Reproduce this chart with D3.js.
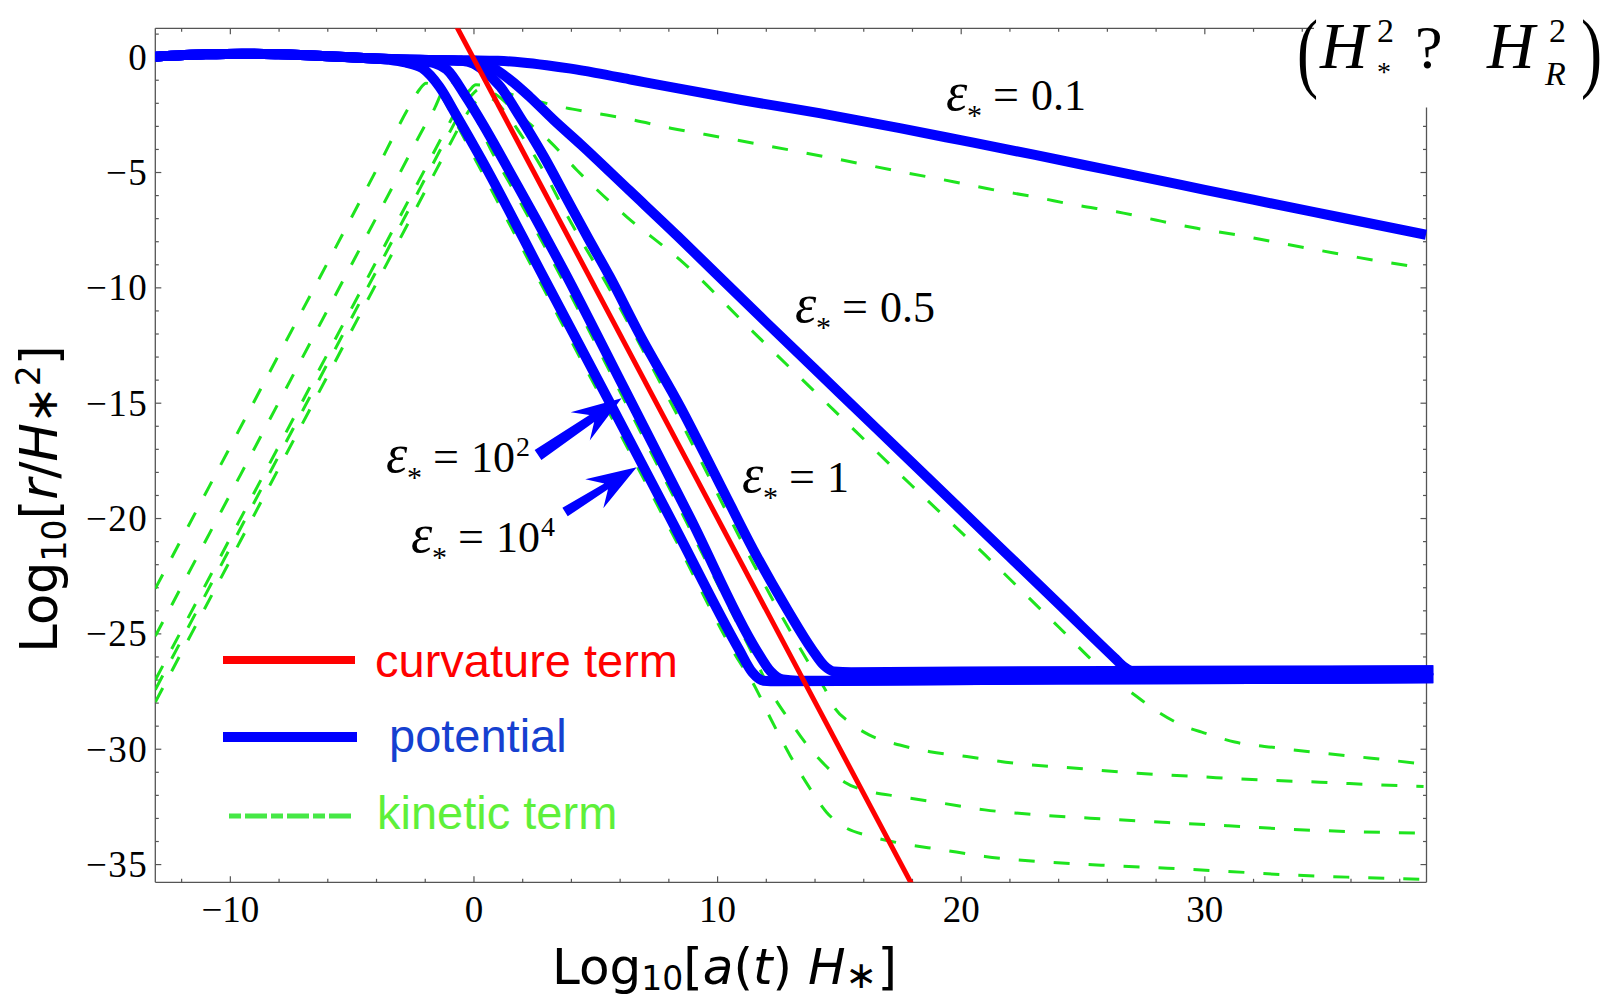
<!DOCTYPE html>
<html lang="en">
<head>
<meta charset="UTF-8">
<title>Log10[r/H*^2] against Log10[a(t) H*]</title>
<script src="https://cdn.jsdelivr.net/npm/d3@7"></script>
<style>
  body { margin: 0; background: #fff; }
  svg { display: block; }
</style>
</head>
<body>
<div id="chart"></div>
<script>
// ---------- data (x = Log10[a H*], y = Log10[r/H*^2]) ----------
const xTicks = [-10, 0, 10, 20, 30];
const yTicks = [0, -5, -10, -15, -20, -25, -30, -35];

// curvature term
const curvX = [-1.0, 18.3];
const curvY = [1.92, -36.49];

// potential, one curve per epsilon*
const potEps01X = [-13.06, -11, -9.5, -8, -6, -4.5, -3, -1.5, 0, 1, 2, 3, 4, 5, 6.5, 8, 11, 14.2, 17.5, 20, 23, 26, 29, 32, 35.5, 39.1];
const potEps01Y = [0.0, 0.1, 0.13, 0.1, 0.02, -0.06, -0.12, -0.15, -0.16, -0.18, -0.25, -0.37, -0.52, -0.7, -1.0, -1.3, -1.88, -2.45, -3.1, -3.62, -4.25, -4.9, -5.55, -6.2, -6.95, -7.72];

const potEps05X = [-13.06, -11, -9.5, -8, -6, -4.5, -3, -1.5, -0.5, 0.3, 0.7, 1.5, 2.3, 3.3, 4.4, 6.4, 8.4, 10, 12, 15, 18, 21, 24, 26.3, 26.7, 27.2, 28, 32, 39.4];
const potEps05Y = [0.0, 0.1, 0.13, 0.1, 0.02, -0.06, -0.12, -0.15, -0.18, -0.26, -0.43, -1.0, -1.73, -2.75, -3.8, -5.8, -7.8, -9.45, -11.5, -14.55, -17.6, -20.65, -23.7, -26.05, -26.45, -26.7, -26.68, -26.65, -26.6];

const potEps1X = [-13.06, -11, -9.5, -8, -6, -4.5, -3, -1.5, -0.5, 0.0, 0.3, 1.1, 1.9, 2.9, 3.8, 4.7, 5.6, 6.8, 8.5, 10.1, 11.5, 12.9, 13.9, 14.4, 14.8, 15.5, 20, 28, 39.4];
const potEps1Y = [0.0, 0.1, 0.13, 0.1, 0.02, -0.06, -0.12, -0.15, -0.18, -0.3, -0.5, -1.3, -2.6, -4.35, -6.1, -7.85, -9.55, -12.0, -15.2, -18.5, -21.4, -24.0, -25.7, -26.4, -26.65, -26.68, -26.65, -26.62, -26.6];

const potEps1e2X = [-13.06, -11, -9.5, -8, -6, -4.5, -3, -2.2, -1.6, -1.1, -0.3, 0.7, 1.6, 2.6, 3.7, 6.15, 8.9, 11.6, 12.2, 12.7, 13.3, 16, 24, 32, 39.4];
const potEps1e2Y = [0.0, 0.1, 0.13, 0.1, 0.02, -0.06, -0.12, -0.18, -0.28, -0.55, -1.75, -3.5, -5.2, -7.1, -9.25, -14.3, -20.0, -25.7, -26.65, -27.0, -27.05, -27.05, -27.0, -26.98, -26.95];

const potEps1e4X = [-13.06, -11, -9.5, -8, -6, -4.5, -3.5, -2.8, -2.1, -1.4, -0.7, 0.3, 2.9, 5.5, 8.2, 10.9, 11.45, 11.9, 12.5, 16, 24, 32, 39.4];
const potEps1e4Y = [0.0, 0.1, 0.13, 0.1, 0.02, -0.06, -0.13, -0.25, -0.5, -1.3, -2.55, -4.4, -9.6, -14.8, -20.25, -25.7, -26.7, -27.05, -27.08, -27.05, -27.0, -26.98, -26.95];

// kinetic term, one curve per epsilon*
const kinEps01X = [-13.06, -6.92, -2, -1, -0.5, -0.15, 0.1, 0.5, 0.9, 1.6, 2.7, 3.7, 4.9, 6.4, 8.1, 10.25, 11.9, 14.5, 17.9, 19.7, 21.4, 23.0, 24.7, 26.4, 28.0, 29.7, 31.35, 33.0, 34.8, 36.3, 39.0];
const kinEps01Y = [-27.02, -14.74, -4.9, -2.9, -1.95, -1.45, -1.22, -1.25, -1.4, -1.65, -1.95, -2.2, -2.43, -2.71, -3.1, -3.51, -3.83, -4.35, -5.06, -5.42, -5.78, -6.07, -6.43, -6.72, -7.08, -7.44, -7.73, -8.06, -8.41, -8.7, -9.16];

const kinEps05X = [-13.06, -6.71, -2, -1, -0.5, -0.1, 0.25, 0.6, 1.0, 1.5, 2.3, 3.14, 4.24, 6.29, 8.48, 11.5, 14.77, 18, 21, 24, 26.0, 27.24, 27.98, 29.24, 29.98, 31.25, 32.97, 34.75, 36.76, 39.0];
const kinEps05Y = [-27.44, -14.74, -5.32, -3.32, -2.35, -1.7, -1.4, -1.45, -1.7, -2.15, -2.9, -3.68, -4.91, -6.94, -8.81, -11.95, -15.3, -18.6, -21.6, -24.7, -26.75, -27.75, -28.32, -29.05, -29.31, -29.71, -29.96, -30.18, -30.4, -30.66];

const kinEps1X = [-13.06, -6.44, -2, -1, -0.4, 0.1, 0.45, 0.8, 1.3, 1.9, 2.9, 3.8, 5.6, 8.5, 11.5, 13.0, 14.0, 14.5, 14.75, 15.5, 16.24, 17.5, 18.74, 20.25, 22.25, 24.75, 27.25, 29.75, 32.25, 34.75, 37.25, 39.0];
const kinEps1Y = [-27.98, -14.74, -5.86, -3.86, -2.7, -1.95, -1.7, -1.85, -2.4, -3.3, -5.0, -6.8, -10.1, -15.8, -22.0, -24.9, -26.7, -27.55, -28.1, -28.9, -29.4, -29.84, -30.13, -30.34, -30.63, -30.85, -31.06, -31.21, -31.35, -31.45, -31.57, -31.64];

const kinEps1e2X = [-13.06, -7.87, -3, -2, -1.6, -1.25, -0.96, -0.6, -0.2, 0.7, 1.6, 2.6, 3.7, 6.15, 8.9, 11.6, 12.25, 12.99, 13.74, 14.49, 15.24, 16.24, 17.49, 19.24, 20.99, 23.24, 25.99, 28.49, 30.99, 33.49, 35.99, 39.0];
const kinEps1e2Y = [-25.12, -14.74, -5.0, -3.0, -2.25, -1.45, -1.1, -1.3, -2.0, -4.0, -5.7, -7.6, -9.75, -14.8, -20.5, -26.2, -27.6, -28.8, -29.9, -30.77, -31.45, -31.85, -32.07, -32.36, -32.65, -32.87, -33.05, -33.2, -33.34, -33.49, -33.59, -33.66];

const kinEps1e4X = [-13.06, -8.9, -4, -2.6, -2.2, -1.95, -1.6, -1.2, -0.7, 0.0, 1.4, 2.9, 5.5, 8.2, 10.9, 11.5, 12.2, 13.0, 13.74, 14.49, 15.24, 16.24, 17.49, 19.24, 20.99, 23.24, 25.99, 28.49, 30.99, 33.49, 35.99, 39.0];
const kinEps1e4Y = [-23.06, -14.74, -4.94, -2.1, -1.4, -1.15, -1.3, -1.9, -2.9, -4.3, -7.1, -10.1, -15.3, -20.75, -26.2, -27.2, -28.7, -30.3, -31.6, -32.75, -33.4, -33.78, -34.09, -34.38, -34.67, -34.89, -35.06, -35.18, -35.32, -35.47, -35.57, -35.66];

// ---------- layout ----------
const W = 1605, H = 998;
const plot = {left: 155.3, right: 1426.5, top: 28.3, bottom: 882.3};
const frameTopEnd = 34.5;      // top frame line stops under the (H*^2 ? H_R^2) note
const frameRightStart = -2.2;  // right frame line starts below it

const serif = "'Liberation Serif', 'Times New Roman', serif";
const sans = "'Liberation Sans', Arial, sans-serif";
const dejavu = "'DejaVu Sans', Verdana, sans-serif";

const svg = d3.select("#chart").append("svg")
  .attr("width", W).attr("height", H)
  .style("font-family", serif);

const x = d3.scaleLinear().domain([-13.06, 39.12]).range([plot.left, plot.right]);
const y = d3.scaleLinear().domain([-35.79, 1.23]).range([plot.bottom, plot.top]);

svg.append("defs").append("clipPath").attr("id", "clip")
  .append("rect")
  .attr("x", plot.left).attr("y", plot.top)
  .attr("width", plot.right - plot.left + 10)
  .attr("height", plot.bottom - plot.top);

// ---------- frame and ticks ----------
const frameColor = "#555";
const frame = svg.append("g").attr("stroke", frameColor).attr("stroke-width", 1.3);
frame.append("line").attr("x1", plot.left).attr("x2", plot.left).attr("y1", plot.top).attr("y2", plot.bottom);
frame.append("line").attr("x1", plot.left).attr("x2", plot.right).attr("y1", plot.bottom).attr("y2", plot.bottom);
frame.append("line").attr("x1", plot.left).attr("x2", x(frameTopEnd)).attr("y1", plot.top).attr("y2", plot.top);
frame.append("line").attr("x1", plot.right).attr("x2", plot.right).attr("y1", y(frameRightStart)).attr("y2", plot.bottom);

const fmt = d => d < 0 ? "\u2212" + Math.abs(d) : String(d);
const xMinor = d3.range(-12, 39, 2).filter(v => v % 10 !== 0);
const yMinor = d3.range(-35, 2, 1).filter(v => v % 5 !== 0);

function styleTicks(g) {
  g.select(".domain").remove();
  g.selectAll(".tick line").attr("stroke", frameColor).attr("stroke-width", 1.2);
}

// bottom
svg.append("g").attr("transform", `translate(0,${plot.bottom})`)
  .call(d3.axisBottom(x).tickValues(xMinor).tickSizeInner(-3.5).tickSizeOuter(0).tickFormat(""))
  .call(styleTicks);
svg.append("g").attr("transform", `translate(0,${plot.bottom})`)
  .call(d3.axisBottom(x).tickValues(xTicks).tickSizeInner(-6).tickSizeOuter(0).tickFormat(fmt))
  .call(styleTicks)
  .call(g => g.selectAll("text")
    .attr("y", 39.4).attr("dy", null)
    .attr("font-family", serif).attr("font-size", 37).attr("fill", "#000"));

// top (only where the frame line exists)
svg.append("g").attr("transform", `translate(0,${plot.top})`)
  .call(d3.axisTop(x).tickValues(xMinor.filter(v => v < frameTopEnd)).tickSizeInner(-3.5).tickSizeOuter(0).tickFormat(""))
  .call(styleTicks);
svg.append("g").attr("transform", `translate(0,${plot.top})`)
  .call(d3.axisTop(x).tickValues(xTicks.filter(v => v < frameTopEnd)).tickSizeInner(-6).tickSizeOuter(0).tickFormat(""))
  .call(styleTicks);

// left
svg.append("g").attr("transform", `translate(${plot.left},0)`)
  .call(d3.axisLeft(y).tickValues(yMinor).tickSizeInner(-3.5).tickSizeOuter(0).tickFormat(""))
  .call(styleTicks);
svg.append("g").attr("transform", `translate(${plot.left},0)`)
  .call(d3.axisLeft(y).tickValues(yTicks).tickSizeInner(-6).tickSizeOuter(0).tickFormat(fmt))
  .call(styleTicks)
  .call(g => g.selectAll("text")
    .attr("x", -7).attr("dy", 12.5)
    .attr("font-family", serif).attr("font-size", 37).attr("letter-spacing", 1.5).attr("fill", "#000"));

// right
svg.append("g").attr("transform", `translate(${plot.right},0)`)
  .call(d3.axisRight(y).tickValues(yMinor.filter(v => v < frameRightStart)).tickSizeInner(-3.5).tickSizeOuter(0).tickFormat(""))
  .call(styleTicks);
svg.append("g").attr("transform", `translate(${plot.right},0)`)
  .call(d3.axisRight(y).tickValues(yTicks.filter(v => v < frameRightStart)).tickSizeInner(-6).tickSizeOuter(0).tickFormat(""))
  .call(styleTicks);

// ---------- curves ----------
const line = d3.line().x(d => x(d[0])).y(d => y(d[1])).curve(d3.curveMonotoneX);
const plotG = svg.append("g").attr("clip-path", "url(#clip)");

const kinetic = [
  d3.zip(kinEps01X, kinEps01Y), d3.zip(kinEps05X, kinEps05Y), d3.zip(kinEps1X, kinEps1Y),
  d3.zip(kinEps1e2X, kinEps1e2Y), d3.zip(kinEps1e4X, kinEps1e4Y)
];
const potential = [
  d3.zip(potEps01X, potEps01Y), d3.zip(potEps05X, potEps05Y), d3.zip(potEps1X, potEps1Y),
  d3.zip(potEps1e2X, potEps1e2Y), d3.zip(potEps1e4X, potEps1e4Y)
];

plotG.selectAll("path.kin").data(kinetic).join("path")
  .attr("class", "kin")
  .attr("d", line)
  .attr("fill", "none")
  .attr("stroke", "#1ee41e")
  .attr("stroke-width", 3)
  .attr("stroke-dasharray", "16,19");

plotG.selectAll("path.pot").data(potential).join("path")
  .attr("class", "pot")
  .attr("d", line)
  .attr("fill", "none")
  .attr("stroke", "#0000ff")
  .attr("stroke-width", 10)
  .attr("stroke-linejoin", "round");

plotG.append("path")
  .datum(d3.zip(curvX, curvY))
  .attr("d", d3.line().x(d => x(d[0])).y(d => y(d[1])))
  .attr("fill", "none")
  .attr("stroke", "#ff0000")
  .attr("stroke-width", 5);

// ---------- arrows pointing at the eps = 10^2 and 10^4 curves ----------
const arrows = [
  {tail: [2.65, -17.27], tip: [6.08, -14.81], w: 12},
  {tail: [3.76, -19.74], tip: [6.7, -17.8], w: 10}
];
arrows.forEach(a => {
  const tx = x(a.tail[0]), ty = y(a.tail[1]);
  const px = x(a.tip[0]), py = y(a.tip[1]);
  const len = Math.hypot(px - tx, py - ty);
  const ux = (px - tx) / len, uy = (py - ty) / len;
  const nx = -uy, ny = ux;
  const hl = 50, hw = 17, notch = 36, hs = a.w / 2;
  const bx = px - notch * ux, by = py - notch * uy;
  const pts = [
    [tx + hs * nx, ty + hs * ny],
    [bx + 0.7 * hs * nx, by + 0.7 * hs * ny],
    [px - hl * ux + hw * nx, py - hl * uy + hw * ny],
    [px, py],
    [px - hl * ux - hw * nx, py - hl * uy - hw * ny],
    [bx - 0.7 * hs * nx, by - 0.7 * hs * ny],
    [tx - hs * nx, ty - hs * ny]
  ];
  svg.append("polygon").attr("points", pts.map(p => p.join(",")).join(" ")).attr("fill", "#0000ff");
});

// ---------- epsilon labels ----------
const epsLabels = [
  {x: 19.44, y: -2.31, val: "0.1", sup: null},
  {x: 13.24, y: -11.5, val: "0.5", sup: null},
  {x: 11.06, y: -18.87, val: "1", sup: null},
  {x: -3.55, y: -18.0, val: "10", sup: "2"},
  {x: -2.52, y: -21.47, val: "10", sup: "4"}
];
epsLabels.forEach(l => {
  const g = svg.append("g").attr("transform", `translate(${x(l.x)},${y(l.y)})`).attr("fill", "#000");
  g.append("text").attr("x", -1).attr("y", 0).attr("font-size", 54).attr("font-style", "italic").text("\u03b5");
  g.append("text").attr("x", 20).attr("y", 15).attr("font-size", 30).text("*");
  g.append("text").attr("x", 46).attr("y", 0).attr("font-size", 46).text("=");
  const v = g.append("text").attr("x", 84).attr("y", 0).attr("font-size", 44).text(l.val);
  if (l.sup) {
    const vw = v.node().getComputedTextLength();
    g.append("text").attr("x", 84 + vw + 1).attr("y", -16).attr("font-size", 28).text(l.sup);
  }
});

// ---------- (H*^2 ? H_R^2) note ----------
const note = svg.append("g").attr("fill", "#000").attr("font-family", serif);
note.append("text").attr("transform", "translate(1297,81) scale(0.72,1)").attr("font-size", 88).text("(");
note.append("text").attr("x", 1320).attr("y", 68).attr("font-size", 66).attr("font-style", "italic").text("H");
note.append("text").attr("x", 1377).attr("y", 42).attr("font-size", 34).text("2");
note.append("text").attr("x", 1377).attr("y", 81).attr("font-size", 28).text("*");
note.append("text").attr("x", 1415).attr("y", 68).attr("font-size", 62).text("?");
note.append("text").attr("x", 1487).attr("y", 68).attr("font-size", 66).attr("font-style", "italic").text("H");
note.append("text").attr("x", 1549).attr("y", 42).attr("font-size", 34).text("2");
note.append("text").attr("x", 1545).attr("y", 85).attr("font-size", 34).attr("font-style", "italic").text("R");
note.append("text").attr("transform", "translate(1581,81) scale(0.72,1)").attr("font-size", 88).text(")");

// ---------- legend ----------
const legend = svg.append("g").attr("font-family", sans).attr("font-size", 47);
legend.append("line").attr("x1", 223).attr("x2", 355).attr("y1", 660).attr("y2", 660)
  .attr("stroke", "#ff0000").attr("stroke-width", 8);
legend.append("text").attr("x", 375).attr("y", 677).attr("fill", "#ff0000").text("curvature term");
legend.append("line").attr("x1", 223).attr("x2", 357).attr("y1", 737).attr("y2", 737)
  .attr("stroke", "#0000ff").attr("stroke-width", 10);
legend.append("text").attr("x", 389).attr("y", 752).attr("fill", "#1540d0").text("potential");
legend.append("line").attr("x1", 229).attr("x2", 355).attr("y1", 816).attr("y2", 816)
  .attr("stroke", "#46e846").attr("stroke-width", 5).attr("stroke-dasharray", "12,4,22,4");
legend.append("text").attr("x", 377).attr("y", 829).attr("fill", "#5ef03a").text("kinetic term");

// ---------- axis titles ----------
const xt = svg.append("text").attr("x", 552).attr("y", 984)
  .attr("font-family", dejavu).attr("font-size", 50).attr("fill", "#000");
xt.append("tspan").text("Log");
xt.append("tspan").attr("dy", 6).attr("font-size", 33).text("10");
xt.append("tspan").attr("dy", -6).text("[");
xt.append("tspan").attr("font-style", "italic").text("a");
xt.append("tspan").text("(");
xt.append("tspan").attr("font-style", "italic").text("t");
xt.append("tspan").text(") ");
xt.append("tspan").attr("font-style", "italic").text("H");
xt.append("tspan").attr("dy", 4).attr("font-size", 38).text("\u2217");
xt.append("tspan").attr("dy", -4).text("]");

const yt = svg.append("text").attr("transform", "translate(57,499) rotate(-90)")
  .attr("text-anchor", "middle")
  .attr("font-family", dejavu).attr("font-size", 51).attr("fill", "#000");
yt.append("tspan").text("Log");
yt.append("tspan").attr("dy", 9).attr("font-size", 33).text("10");
yt.append("tspan").attr("dy", -9).text("[");
yt.append("tspan").attr("font-style", "italic").text("r");
yt.append("tspan").text("/");
yt.append("tspan").attr("font-style", "italic").text("H");
yt.append("tspan").attr("font-size", 44).text("\u2217");
yt.append("tspan").attr("dy", -17).attr("font-size", 33).text("2");
yt.append("tspan").attr("dy", 17).text("]");
</script>
</body>
</html>
